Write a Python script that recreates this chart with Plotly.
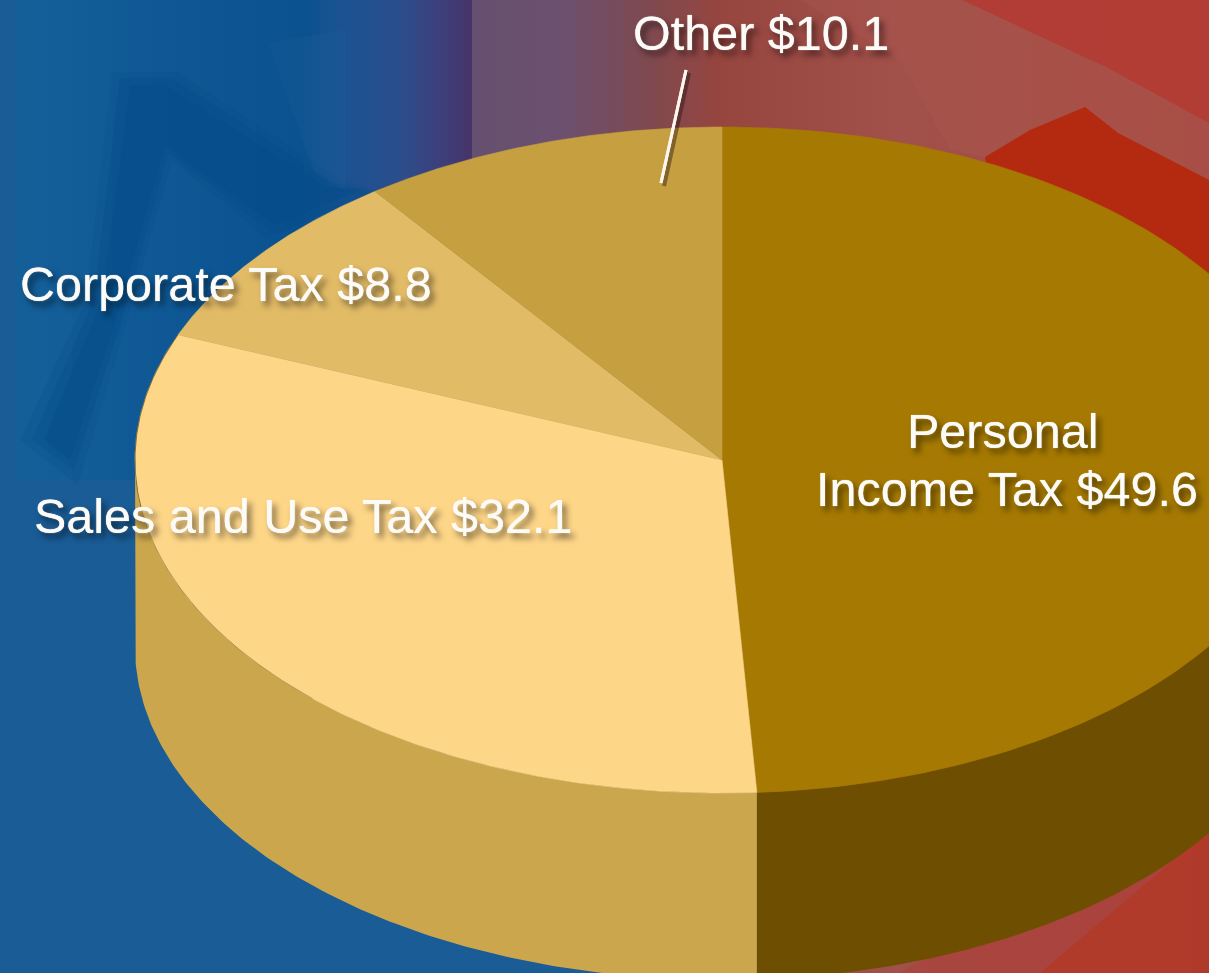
import numpy as np
import plotly.graph_objects as go

categories = ["Personal Income Tax", "Sales and Use Tax", "Corporate Tax", "Other"]
values = [49.6, 32.1, 8.8, 10.1]
top_colors = ["#a67a02", "#fed688", "#e2bb67", "#c69f41"]
side_colors = ["#6e4e00", "#cba64c"]

W, H = 1209, 973
CX, CY, RX, RY, DEPTH = 722, 460, 587, 333, 187
FONT = "Liberation Sans, Arial, sans-serif"
SHADOW = "0 0 1px rgba(255,255,255,0.9), 4px 5px 6px rgba(0,0,0,0.55)"


def ell(a):
    a = np.asarray(a, float)
    # slight perspective of the tilted disc: front angles drift a little
    a = np.radians(a - 0.9 * (1 - np.cos(np.radians(a))) / 2)
    return CX + RX * np.sin(a), CY - RY * np.cos(a)


def hex_rgb(h):
    return np.array([int(h[i:i + 2], 16) for i in (1, 3, 5)], float)


bg_x = [0, 120, 300, 345, 400, 440, 468, 474, 560, 640, 720, 900, 1209]
bg_c = ["#16609a", "#105a96", "#0a5290", "#1c5292", "#2b4d8c", "#3d3f7c", "#45356a", "#66506f",
        "#6c5070", "#7c4a52", "#96453f", "#a2504a", "#a84a42"]
shapes = []
edges = np.arange(0, W + 8, 8)
for a, b in zip(edges[:-1], edges[1:]):
    m = (a + b) / 2
    rgb = [np.interp(m, bg_x, [hex_rgb(c)[k] for c in bg_c]) for k in range(3)]
    shapes.append(dict(type="rect", x0=a, x1=b + 1, y0=0, y1=H, line_width=0, layer="below",
                       fillcolor=f"rgb({rgb[0]:.0f},{rgb[1]:.0f},{rgb[2]:.0f})"))


def poly(pts, color):
    d = "M" + " L".join(f"{x},{y}" for x, y in pts) + " Z"
    shapes.append(dict(type="path", path=d, fillcolor=color, line_width=0, layer="below"))


# backdrop artwork
poly([(0, 480), (760, 480), (760, 973), (0, 973)], "#1a5c96")
poly([(112, 72), (178, 72), (338, 178), (378, 192), (275, 245), (172, 160), (133, 300), (78, 485), (20, 440), (86, 300)],
     "rgba(4,76,138,0.22)")
poly([(120, 78), (172, 78), (332, 182), (370, 192), (275, 235), (168, 152), (128, 300), (74, 470), (32, 440), (94, 300)],
     "rgba(4,76,138,0.28)")
poly([(130, 85), (165, 85), (326, 187), (360, 190), (275, 225), (165, 145), (122, 300), (70, 460), (44, 440), (102, 300)],
     "rgba(4,76,138,0.32)")
poly([(268, 43), (314, 173), (345, 190), (345, 30)], "rgba(50,105,165,0.12)")
poly([(962, 0), (1209, 0), (1209, 123), (1106, 67)], "rgba(180,58,50,0.8)")
poly([(800, 0), (962, 0), (1106, 67), (1209, 123), (1209, 180), (1118, 133), (1085, 107), (985, 157), (950, 150), (900, 60)],
     "rgba(172,88,78,0.3)")
poly([(985, 157), (1030, 130), (1085, 107), (1118, 133), (1209, 180), (1209, 300), (1120, 300), (1000, 260)], "#b42a10")
poly([(900, 973), (1209, 780), (1209, 973)], "rgba(178,56,50,0.4)")
poly([(1040, 973), (1209, 830), (1209, 973)], "rgba(178,56,36,0.7)")

fig = go.Figure()

# wedge angles come from the values
total = sum(values)
cuts = np.concatenate([[0], np.cumsum(values) / total * 360])

# side wall: personal, then sales
for i, col in enumerate(side_colors):
    lo, hi = (max(cuts[i], 90), min(cuts[i + 1], 270))
    t = np.linspace(lo, hi, 160)
    x, y = ell(t)
    fig.add_trace(go.Scatter(x=np.r_[x, x[::-1]], y=np.r_[y, y[::-1] + DEPTH], mode="lines", fill="toself",
                             fillcolor=col, line=dict(width=0), hoverinfo="skip", showlegend=False))

# top face
for i, name in enumerate(categories):
    t = np.linspace(cuts[i], cuts[i + 1], 160)
    x, y = ell(t)
    fig.add_trace(go.Scatter(x=np.r_[CX, x, CX], y=np.r_[CY, y, CY], mode="lines", fill="toself", name=name,
                             fillcolor=top_colors[i], line=dict(width=0.6, color=top_colors[i]),
                             hoverinfo="skip", showlegend=False))

# dark rim on the light slice
for lo, hi, alpha in [(225, 262, 0.3), (262, cuts[2], 0.6)]:
    x, y = ell(np.linspace(lo, hi, 80))
    fig.add_trace(go.Scatter(x=x, y=y, mode="lines", line=dict(width=1, color=f"rgba(80,55,10,{alpha})"),
                             hoverinfo="skip", showlegend=False))

# leader line of "Other"
for dx, dy, col, w in [(3, 3, "rgba(40,20,20,0.25)", 4), (0, 0, "#fff6ee", 3)]:
    fig.add_shape(type="line", x0=686 + dx, y0=70 + dy, x1=661 + dx, y1=183 + dy, line=dict(color=col, width=w))

labels = ["Personal", f"Income Tax ${values[0]}", f"{categories[1]} ${values[1]}",
          f"{categories[2]} ${values[2]}", f"{categories[3]} ${values[3]}"]
pos = [(1002, 431), (1007, 489), (303, 516), (226, 284), (761, 33)]
for txt, (x, y) in zip(labels, pos):
    fig.add_annotation(x=x, y=y, text=txt, showarrow=False, xanchor="center", yanchor="middle",
                       font=dict(family=FONT, size=48.5, color="#fdfbf7", shadow=SHADOW))

fig.update_layout(width=W, height=H, margin=dict(l=0, r=0, t=0, b=0), shapes=shapes + list(fig.layout.shapes),
                  plot_bgcolor="#1a5c96", paper_bgcolor="#1a5c96", showlegend=False,
                  xaxis=dict(range=[0, W], visible=False, fixedrange=True),
                  yaxis=dict(range=[H, 0], visible=False, fixedrange=True))
fig.write_html("out.html", config=dict(displayModeBar=False),
               post_script="document.body.style.margin='0';document.body.style.overflow='hidden';")
